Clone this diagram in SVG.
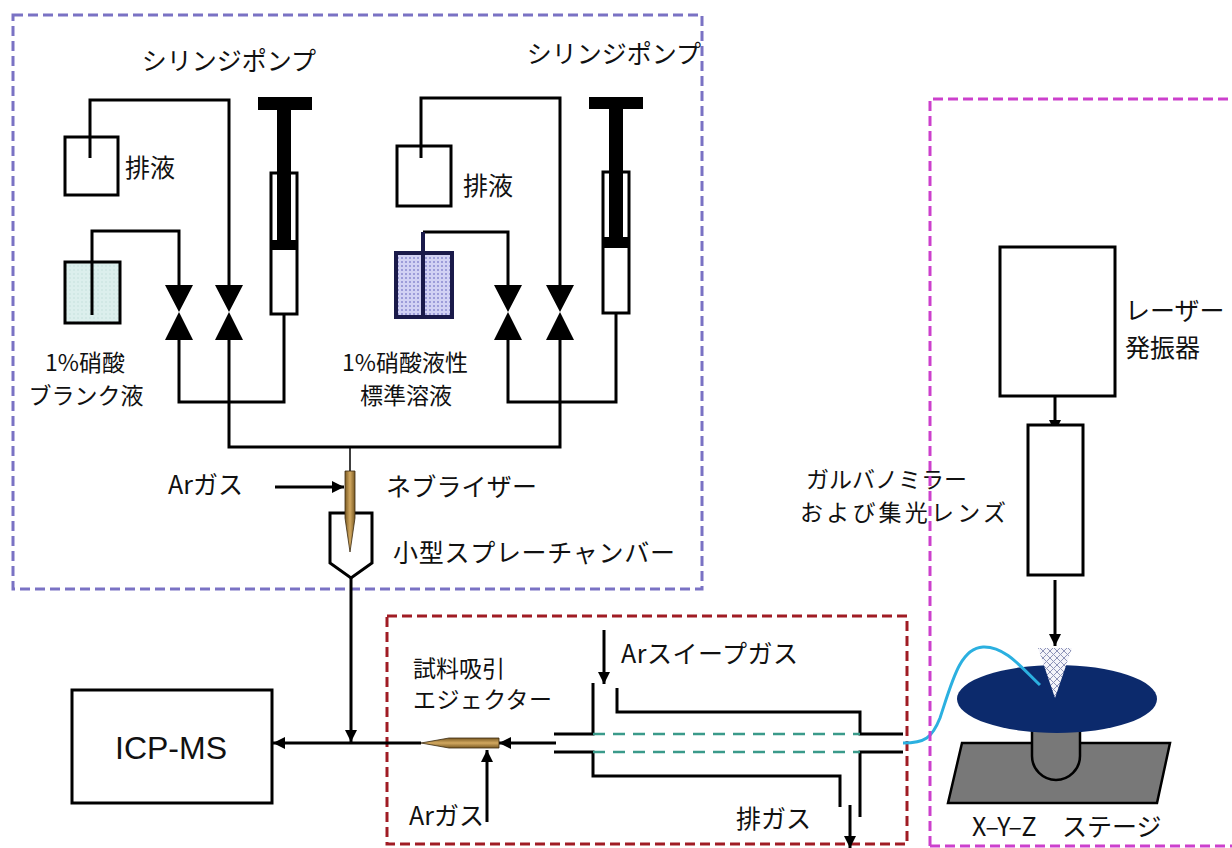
<svg xmlns="http://www.w3.org/2000/svg" width="1232" height="848" viewBox="0 0 1232 848">
  <defs>
    <style>
      .jp { font-family: "Noto Sans CJK JP", "Noto Sans", sans-serif; font-size: 25px; fill: #111; }
      .jp2 { font-family: "Noto Sans CJK JP", "Noto Sans", sans-serif; font-size: 23px; fill: #111; }
      .en { font-family: "Liberation Sans", Arial, sans-serif; fill: #111; }
      .pipe { fill: none; stroke: #000; stroke-width: 3; }
      .thin { fill: none; stroke: #000; stroke-width: 1.5; }
      .box { fill: #fff; stroke: #000; stroke-width: 3; }
      .solid { fill: #000; }
      .valve { fill: #000; }
      .zone { fill: none; stroke-width: 3; stroke-dasharray: 10 5; }
      .flow { fill: none; stroke: #000; stroke-width: 3; marker-end: url(#arr); }
      .carrier { fill: none; stroke: #3a9a8a; stroke-width: 2.5; stroke-dasharray: 12 8; }
    </style>
    <marker id="arr" viewBox="0 0 10 10" refX="10" refY="5" markerWidth="12" markerHeight="12" markerUnits="userSpaceOnUse" orient="auto">
      <path d="M0,0 L10,5 L0,10 z" fill="#000"/>
    </marker>
    <linearGradient id="brass" x1="0" y1="0" x2="1" y2="0">
      <stop offset="0" stop-color="#7a5a22"/>
      <stop offset="0.5" stop-color="#d2a860"/>
      <stop offset="1" stop-color="#7a5a22"/>
    </linearGradient>
    <linearGradient id="brassH" x1="0" y1="0" x2="0" y2="1">
      <stop offset="0" stop-color="#7a5a22"/>
      <stop offset="0.5" stop-color="#d2a860"/>
      <stop offset="1" stop-color="#7a5a22"/>
    </linearGradient>
    <pattern id="aqua" width="4" height="4" patternUnits="userSpaceOnUse">
      <rect width="4" height="4" fill="#dcefed"/>
      <circle cx="2" cy="2" r="0.8" fill="#c4e0dc"/>
    </pattern>
    <pattern id="lilac" width="4" height="4" patternUnits="userSpaceOnUse">
      <rect width="4" height="4" fill="#d2d2f4"/>
      <circle cx="2" cy="2" r="1" fill="#8c8cd0"/>
    </pattern>
    <pattern id="mesh" width="7" height="7" patternUnits="userSpaceOnUse">
      <rect width="7" height="7" fill="#f4f4fa"/>
      <path d="M0,0 L7,7 M7,0 L0,7" stroke="#8e94b8" stroke-width="1"/>
    </pattern>
  </defs>

  <rect width="1232" height="848" fill="#fff"/>

  <!-- zones -->
  <g id="zone-liquid">
    <rect class="zone" x="13" y="15" width="689" height="574" stroke="#7a72c4"/>
  </g>
  <g id="zone-ablation-cell">
    <rect class="zone" x="387" y="616" width="520" height="228" stroke="#a01c24"/>
  </g>

  <!-- connectors -->
  <g id="connectors">
    <!-- left pump tubing -->
    <path class="pipe" d="M90,145 V100 H229 V285"/>
    <path class="pipe" d="M92,315 V231 H179 V285"/>
    <path class="pipe" d="M179,340 V402 H284 V314"/>
    <!-- right pump tubing -->
    <path class="pipe" d="M421,155 V98 H560 V285"/>
    <path class="pipe" d="M423,232 H508 V285"/>
    <path class="pipe" d="M508,340 V402 H616 V313"/>
    <!-- common line to nebulizer -->
    <path class="pipe" d="M229,340 V447 H560 V340"/>
    <path class="thin" d="M350,447 V471"/>
    <!-- Ar to nebulizer -->
    <path class="flow" d="M275,487 H344"/>
    <!-- spray chamber outlet to main line -->
    <path class="flow" d="M351,578 V742"/>
    <!-- main line to ICP-MS -->
    <path class="flow" d="M421,743 H273"/>
    <!-- cell outlet to ejector -->
    <path class="flow" d="M556,743 H499"/>
    <!-- Ar into ejector -->
    <path class="flow" d="M487,822 V750"/>
    <!-- sweep gas in -->
    <path class="flow" d="M604,630 V684"/>
    <!-- exhaust -->
    <path class="flow" d="M850,805 V848"/>
    <!-- laser beam -->
    <path class="flow" d="M1055,396 V432"/>
    <path class="flow" d="M1055,580 V646"/>
  </g>

  <!-- left syringe pump -->
  <g id="pump-left">
    <rect class="box" x="271" y="173" width="26" height="141" stroke-width="2.5"/>
    <rect class="solid" x="258" y="97" width="54" height="13"/>
    <rect class="solid" x="277" y="110" width="14" height="132"/>
    <rect class="solid" x="271" y="240" width="26" height="10"/>
    <text class="jp" x="229" y="70" text-anchor="middle">シリンジポンプ</text>
  </g>
  <g id="valve-left-a">
    <path class="valve" d="M165,285 H193 L179,312 Z M179,312 L193,340 H165 Z"/>
  </g>
  <g id="valve-left-b">
    <path class="valve" d="M215,285 H243 L229,312 Z M229,312 L243,340 H215 Z"/>
  </g>
  <g id="waste-left">
    <rect class="box" x="65" y="137" width="53" height="58" fill="none"/>
    <path class="pipe" d="M90,137 V158"/>
    <text class="jp" x="125" y="177">排液</text>
  </g>
  <g id="blank-solution">
    <rect x="65" y="262" width="55" height="61" fill="url(#aqua)" stroke="#000" stroke-width="3"/>
    <path class="pipe" d="M92,262 V315"/>
    <text class="jp2" x="85" y="371" text-anchor="middle">1%硝酸</text>
    <text class="jp2" x="86" y="404" text-anchor="middle">ブランク液</text>
  </g>

  <!-- right syringe pump -->
  <g id="pump-right">
    <rect class="box" x="603" y="172" width="26" height="141" stroke-width="2.5"/>
    <rect class="solid" x="589" y="97" width="54" height="12"/>
    <rect class="solid" x="609" y="109" width="14" height="131"/>
    <rect class="solid" x="603" y="237" width="26" height="11"/>
    <text class="jp" x="614" y="63" text-anchor="middle">シリンジポンプ</text>
  </g>
  <g id="valve-right-a">
    <path class="valve" d="M494,285 H522 L508,312 Z M508,312 L522,340 H494 Z"/>
  </g>
  <g id="valve-right-b">
    <path class="valve" d="M546,285 H574 L560,312 Z M560,312 L574,340 H546 Z"/>
  </g>
  <g id="waste-right">
    <rect class="box" x="397" y="146" width="54" height="60" fill="none"/>
    <path class="pipe" d="M421,146 V158"/>
    <text class="jp" x="463" y="195">排液</text>
  </g>
  <g id="standard-solution">
    <rect x="396" y="253" width="56" height="64" fill="url(#lilac)" stroke="#1a1a4a" stroke-width="4"/>
    <path d="M423,232 V317" fill="none" stroke="#1a1a4a" stroke-width="4"/>
    <text class="jp2" x="405" y="371" text-anchor="middle">1%硝酸液性</text>
    <text class="jp2" x="406" y="404" text-anchor="middle">標準溶液</text>
  </g>

  <!-- nebulizer and spray chamber -->
  <g id="spray-chamber">
    <path d="M330,513 H372 V563 L351,578 L330,563 Z" fill="#fff" stroke="#000" stroke-width="3"/>
    <text class="jp" x="393" y="562" textLength="282" lengthAdjust="spacing">小型スプレーチャンバー</text>
  </g>
  <g id="nebulizer">
    <path d="M345,471 H355 V518 L350,552 L345,518 Z" fill="url(#brass)" stroke="#3a2a10" stroke-width="0.8"/>
    <text class="jp" x="386" y="496" textLength="151" lengthAdjust="spacing">ネブライザー</text>
    <text class="jp" x="168" y="494">Arガス</text>
  </g>

  <!-- ICP-MS -->
  <g id="icp-ms">
    <rect class="box" x="72" y="690" width="200" height="113"/>
    <text class="en" x="171" y="759" text-anchor="middle" font-size="32">ICP-MS</text>
  </g>

  <!-- ejector -->
  <g id="ejector">
    <path d="M421,743 L449,738 H499 V748 H449 Z" fill="url(#brassH)" stroke="#3a2a10" stroke-width="0.8"/>
    <text class="jp2" x="413" y="677">試料吸引</text>
    <text class="jp2" x="413" y="708" textLength="139" lengthAdjust="spacing">エジェクター</text>
    <text class="jp" x="409" y="825">Arガス</text>
  </g>

  <!-- ablation cell -->
  <g id="ablation-cell">
    <path class="pipe" d="M554,734 H593 V683"/>
    <path class="pipe" d="M554,752 H593 V776 H840 V807"/>
    <path class="pipe" d="M617,688 V712 H860 V734 H903"/>
    <path class="pipe" d="M903,752 H860 V817"/>
    <path class="carrier" d="M593,734 H860"/>
    <path class="carrier" d="M593,752 H860"/>
    <text class="jp" x="621" y="663" textLength="177" lengthAdjust="spacing">Arスイープガス</text>
    <text class="jp" x="736" y="828">排ガス</text>
  </g>

  <!-- laser optics -->
  <g id="laser">
    <rect class="box" x="1000" y="247" width="115" height="149"/>
    <text class="jp" x="1125" y="320">レーザー</text>
    <text class="jp" x="1125" y="357">発振器</text>
  </g>
  <g id="galvano-lens">
    <rect class="box" x="1028" y="425" width="55" height="150"/>
    <text class="jp2" x="806" y="488">ガルバノミラー</text>
    <text class="jp2" x="800" y="521" textLength="206" lengthAdjust="spacing">および集光レンズ</text>
  </g>

  <!-- X-Y-Z stage -->
  <g id="stage">
    <path d="M962,743 H1170 L1157,803 H948 Z" fill="#787878" stroke="#000" stroke-width="2.5"/>
    <path d="M1032,725 V756 A24,24 0 0 0 1080,756 V725" fill="#787878" stroke="#000" stroke-width="2.5"/>
    <ellipse cx="1057" cy="699" rx="100" ry="34" fill="#0c2a6c"/>
    <path d="M903,743 C925,743 932,738 940,718 C952,682 960,648 983,647 C1005,646 1022,668 1040,685" fill="none" stroke="#2bb0e0" stroke-width="3"/>
    <path d="M1038,648 H1072 L1055,698 Z" fill="url(#mesh)"/>
    <text class="jp" x="972" y="836">X–Y–Z <tspan x="1062">ステージ</tspan></text>
  </g>

  <g id="zone-laser">
    <path class="zone" d="M930,846 V99 H1240" stroke="#cc40cc"/>
    <path class="zone" d="M930,846 H1240" stroke="#cc40cc"/>
  </g>
</svg>
